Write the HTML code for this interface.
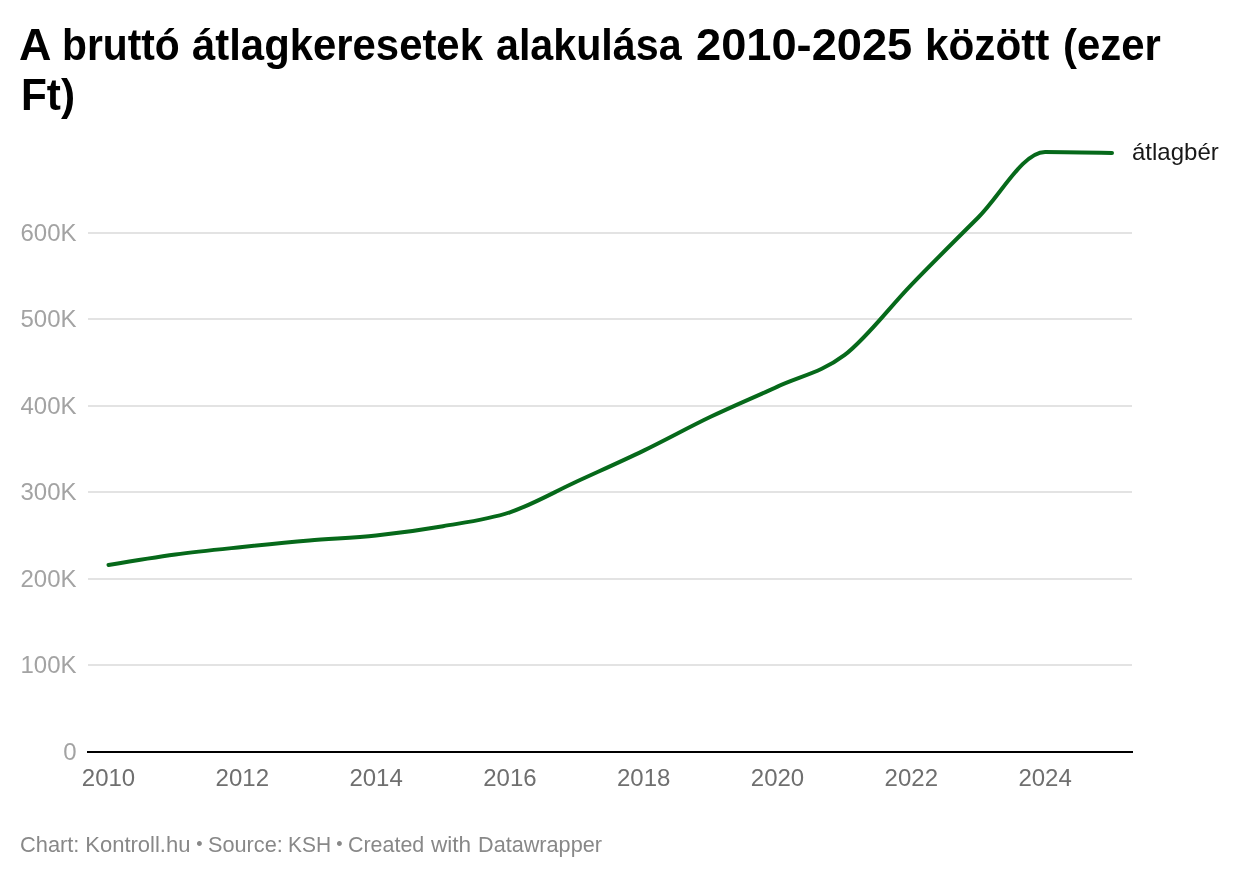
<!DOCTYPE html>
<html lang="hu">
<head>
<meta charset="utf-8">
<title>A bruttó átlagkeresetek alakulása 2010-2025 között (ezer Ft)</title>
<style>
html,body{margin:0;padding:0;background:#fff;}
body{width:1240px;height:878px;position:relative;overflow:hidden;font-family:"Liberation Sans",Arial,sans-serif;}
.chart{position:absolute;left:0;top:0;width:1240px;height:878px;will-change:transform;-webkit-font-smoothing:antialiased;}
h1.title{position:absolute;left:0;top:20px;width:1240px;height:100px;margin:0;font-size:44px;line-height:50px;font-weight:700;color:#000;white-space:nowrap;}
h1.title span,.footer span{position:absolute;display:block;white-space:nowrap;transform-origin:0 0;}
.footer{position:absolute;left:0;top:832px;width:1240px;height:26px;font-size:22px;line-height:26px;color:#888;white-space:nowrap;}
.footer span{top:0;}
.footer span.sep{font-size:18px;top:-0.7px;}
svg{position:absolute;left:0;top:0;}
svg text{font-family:"Liberation Sans",Arial,sans-serif;font-size:24px;}
.grid rect{fill:#e3e3e3;shape-rendering:crispEdges;}
.ylab text{fill:#a3a3a3;text-anchor:end;}
.xlab text{fill:#6f6f6f;text-anchor:middle;}
.series{fill:none;stroke:#06691a;stroke-width:4;stroke-linecap:round;stroke-linejoin:round;}
.serieslabel{fill:#181818;}
</style>
</head>
<body>
<div class="chart">
<h1 class="title"><span style="left:19.3px;top:0px;transform:scaleX(1.0207)">A</span> <span style="left:62.4px;top:0px;transform:scaleX(0.9268)">bruttó</span> <span style="left:192.1px;top:0px;transform:scaleX(0.9515)">átlagkeresetek</span> <span style="left:496.2px;top:0px;transform:scaleX(0.9364)">alakulása</span> <span style="left:696.4px;top:0px;transform:scaleX(1.0278)">2010-2025</span> <span style="left:925.0px;top:0px;transform:scaleX(0.9606)">között</span> <span style="left:1063.2px;top:0px;transform:scaleX(0.952)">(ezer</span> <span style="left:20.6px;top:50px;transform:scaleX(0.9615)">Ft)</span></h1>
<svg width="1240" height="878" viewBox="0 0 1240 878">
<g class="grid">
<rect x="88" y="664" width="1044" height="2"/>
<rect x="88" y="578" width="1044" height="2"/>
<rect x="88" y="491" width="1044" height="2"/>
<rect x="88" y="405" width="1044" height="2"/>
<rect x="88" y="318" width="1044" height="2"/>
<rect x="88" y="232" width="1044" height="2"/>
</g>
<rect class="baseline" x="87" y="751" width="1046" height="2" fill="#000" shape-rendering="crispEdges"/>
<g class="ylab">
<text x="76.5" y="673.30">100K</text>
<text x="76.5" y="587.30">200K</text>
<text x="76.5" y="500.30">300K</text>
<text x="76.5" y="414.30">400K</text>
<text x="76.5" y="327.30">500K</text>
<text x="76.5" y="241.30">600K</text>
<text x="76.5" y="760.30">0</text>
</g>
<g class="xlab">
<text x="108.50" y="786">2010</text>
<text x="242.30" y="786">2012</text>
<text x="376.10" y="786">2014</text>
<text x="509.90" y="786">2016</text>
<text x="643.70" y="786">2018</text>
<text x="777.50" y="786">2020</text>
<text x="911.30" y="786">2022</text>
<text x="1045.10" y="786">2024</text>
</g>
<path class="series" d="M108.50,565.00C130.80,561.25,153.10,557.50,175.40,554.50C197.70,551.50,220.00,549.33,242.30,547.00C264.60,544.67,286.90,542.42,309.20,540.50C331.50,538.58,353.80,537.88,376.10,535.50C398.40,533.12,420.70,530.07,443.00,526.20C465.30,522.33,487.60,519.75,509.90,512.30C532.20,504.85,554.50,491.78,576.80,481.50C599.10,471.22,621.40,461.38,643.70,450.60C666.00,439.82,688.30,427.47,710.60,416.80C732.90,406.13,755.20,396.87,777.50,386.60C799.80,376.33,822.10,372.17,844.40,355.20C866.70,338.23,889.00,307.75,911.30,284.80C933.60,261.85,955.90,239.65,978.20,217.50C1000.50,195.35,1022.80,151.90,1045.10,151.90C1067.40,151.90,1089.70,152.45,1112.00,153.00"/>
<text class="serieslabel" x="1132" y="160">átlagbér</text>
</svg>
<div class="footer"><span style="left:19.75px;transform:scaleX(0.9914)">Chart:</span> <span style="left:85.25px;transform:scaleX(1.0)">Kontroll.hu</span> <span class="sep" style="left:196.3px">•</span> <span style="left:208.25px;transform:scaleX(0.9863)">Source:</span> <span style="left:287.75px;transform:scaleX(0.9536)">KSH</span> <span class="sep" style="left:336.3px">•</span> <span style="left:348.25px;transform:scaleX(0.9737)">Created</span> <span style="left:431.25px;transform:scaleX(1.0265)">with</span> <span style="left:477.75px;transform:scaleX(0.984)">Datawrapper</span></div>
</div>
</body>
</html>
